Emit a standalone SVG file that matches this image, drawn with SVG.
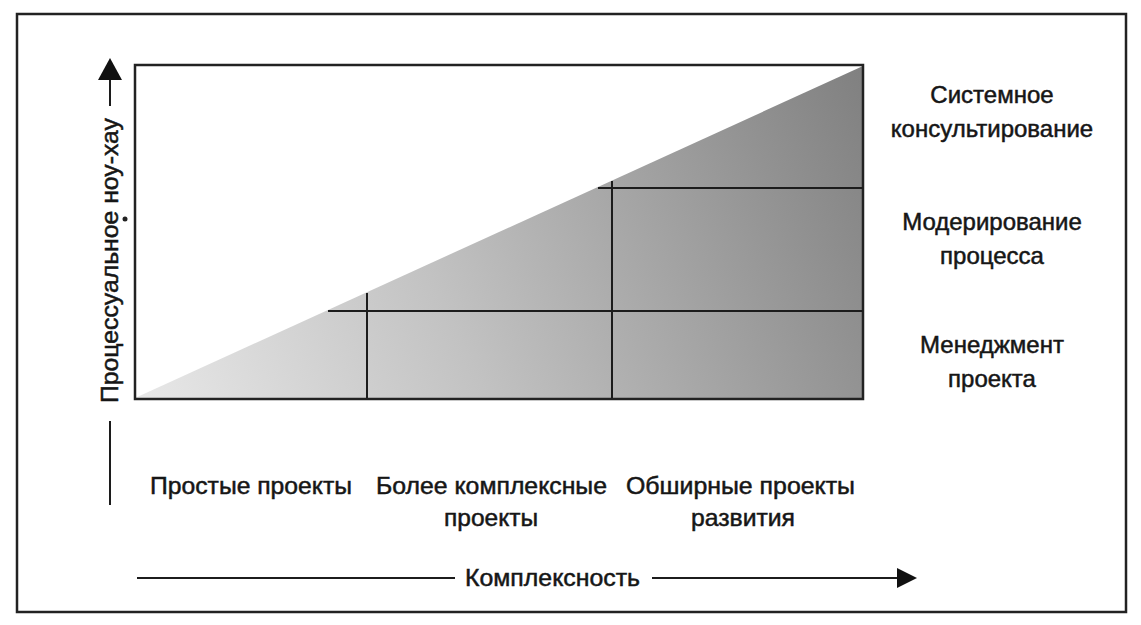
<svg xmlns="http://www.w3.org/2000/svg" width="1141" height="625" viewBox="0 0 1141 625">
  <defs>
    <linearGradient id="shade" gradientUnits="userSpaceOnUse" x1="135" y1="398" x2="863" y2="66">
      <stop offset="0" stop-color="#e8e8e8"/>
      <stop offset="0.4" stop-color="#c2c2c2"/>
      <stop offset="1" stop-color="#808080"/>
    </linearGradient>
    <marker id="arrow" viewBox="0 0 20 20" refX="18" refY="10" markerWidth="20" markerHeight="20" markerUnits="userSpaceOnUse" orient="auto">
      <path d="M0,0 L20,10 L0,20 Z" fill="#111"/>
    </marker>
    <marker id="arrowUp" viewBox="0 0 22 24" refX="20" refY="12" markerWidth="22" markerHeight="24" markerUnits="userSpaceOnUse" orient="auto">
      <path d="M0,0 L22,12 L0,24 Z" fill="#111"/>
    </marker>
  </defs>
  <style>
    .frame { fill: none; stroke: #222; stroke-width: 2.5; }
    .grid { stroke: #1c1c1c; stroke-width: 2; fill: none; }
    .axis { stroke: #1c1c1c; stroke-width: 2; fill: none; }
    .lbl { font-family: "Liberation Sans", Arial, sans-serif; font-size: 24px; fill: #161616; stroke: #161616; stroke-width: 0.5; }
    .mid { text-anchor: middle; }
  </style>
  <rect width="1141" height="625" fill="#ffffff"/>

  <g id="outer-frame">
    <rect class="frame" x="17" y="14" width="1109" height="598"/>
  </g>

  <g id="chart">
    <polygon points="135,398 863,66 863,398" fill="url(#shade)"/>
    <rect class="frame" x="135" y="65" width="728" height="334"/>
  </g>

  <g id="connectors">
    <line class="grid" x1="328" y1="311" x2="863" y2="311"/>
    <line class="grid" x1="598" y1="188" x2="863" y2="188"/>
    <line class="grid" x1="367" y1="293" x2="367" y2="398"/>
    <line class="grid" x1="612" y1="181" x2="612" y2="398"/>
    <line class="axis" x1="110" y1="106" x2="110" y2="60" marker-end="url(#arrowUp)"/>
    <line class="axis" x1="110" y1="421" x2="110" y2="505"/>
    <line class="axis" x1="137" y1="578" x2="455" y2="578"/>
    <line class="axis" x1="652" y1="578" x2="915" y2="578" marker-end="url(#arrow)"/>
  </g>

  <g id="y-axis-label">
    <text class="lbl" transform="translate(118,403) rotate(-90)" x="0" y="0" textLength="285" lengthAdjust="spacingAndGlyphs">Процессуальное ноу-хау</text>
    <circle cx="125" cy="219" r="2.5" fill="#222"/>
  </g>

  <g id="x-axis-label">
    <text class="lbl" x="465" y="586" textLength="175" lengthAdjust="spacingAndGlyphs">Комплексность</text>
  </g>

  <g id="col-simple">
    <text class="lbl" x="150" y="494" textLength="202" lengthAdjust="spacingAndGlyphs">Простые проекты</text>
  </g>
  <g id="col-complex">
    <text class="lbl" x="376" y="494" textLength="231" lengthAdjust="spacingAndGlyphs">Более комплексные</text>
    <text class="lbl" x="444" y="526" textLength="94" lengthAdjust="spacingAndGlyphs">проекты</text>
  </g>
  <g id="col-large">
    <text class="lbl" x="626" y="494" textLength="229" lengthAdjust="spacingAndGlyphs">Обширные проекты</text>
    <text class="lbl" x="691" y="526" textLength="104" lengthAdjust="spacingAndGlyphs">развития</text>
  </g>

  <g id="row-system">
    <text class="lbl mid" x="992" y="103">Системное</text>
    <text class="lbl mid" x="992" y="137">консультирование</text>
  </g>
  <g id="row-moderation">
    <text class="lbl mid" x="992" y="230">Модерирование</text>
    <text class="lbl mid" x="992" y="264">процесса</text>
  </g>
  <g id="row-management">
    <text class="lbl mid" x="992" y="353">Менеджмент</text>
    <text class="lbl mid" x="992" y="387">проекта</text>
  </g>
</svg>
